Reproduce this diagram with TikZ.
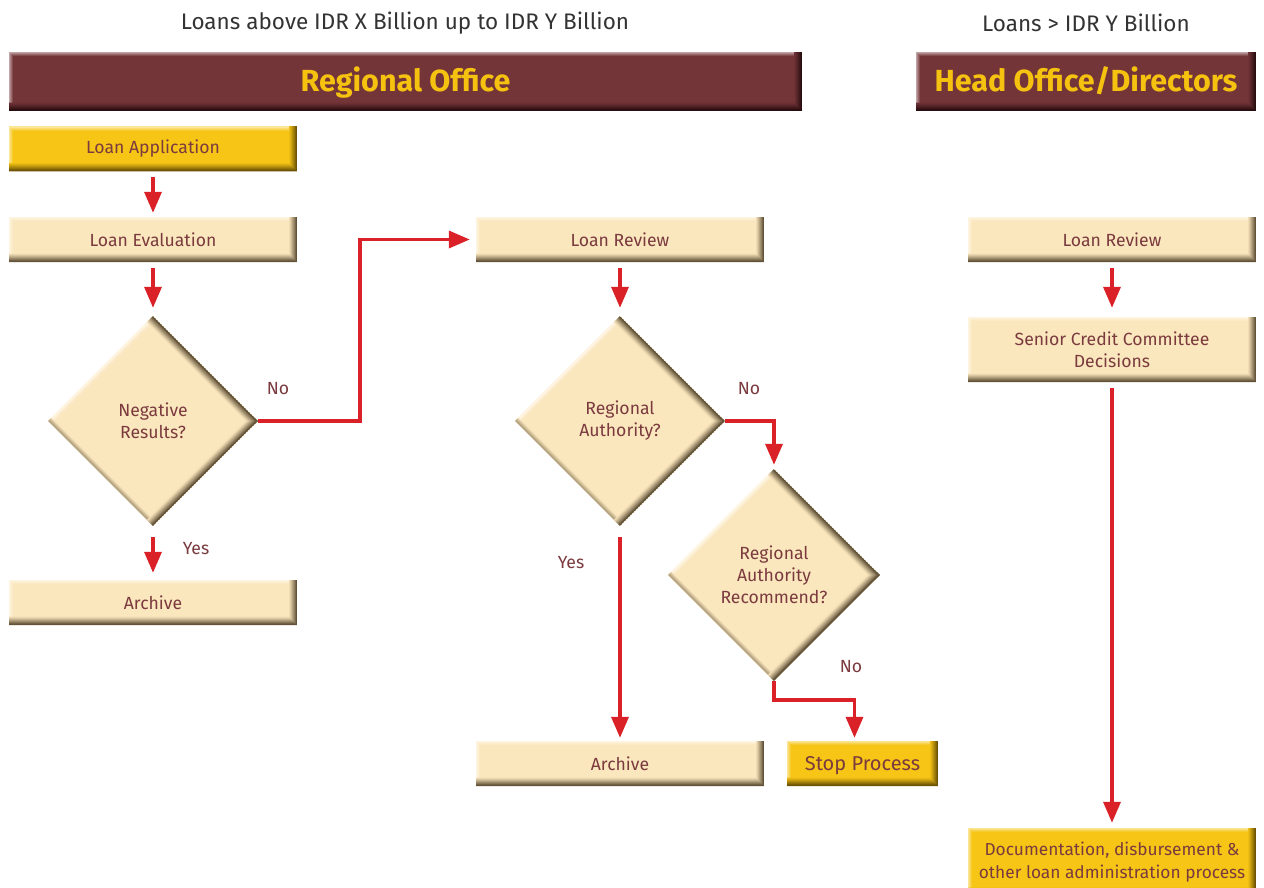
\documentclass[tikz,border=0pt]{standalone}
\usepackage{fontspec}
\setmainfont{Fira Sans}
\usetikzlibrary{shapes.geometric,arrows.meta,calc}
\definecolor{bxtan}{HTML}{FBE7BE}
\definecolor{bxgold}{HTML}{F6C516}
\definecolor{bxdark}{HTML}{4E3F26}
\definecolor{golddark}{HTML}{5A4300}
\definecolor{hdr}{HTML}{743539}
\definecolor{hdrdark}{HTML}{1E0709}
\definecolor{txtm}{HTML}{7A3A3E}
\definecolor{arr}{HTML}{DA2128}
\definecolor{ttl}{HTML}{F5C20F}
\definecolor{toptxt}{HTML}{333333}
\tikzset{
  rbevel/.style 2 args={fill=#1, path picture={
    \foreach \k/\p in {3/12,2/26,1/40,0/55}{
      \fill[white!\p!#1] ([yshift={-\k*1pt}]path picture bounding box.north west) rectangle ([yshift={-(\k+1.4)*1pt}]path picture bounding box.north east);
      \fill[white!\p!#1] ([xshift={\k*1pt}]path picture bounding box.north west) rectangle ([xshift={(\k+1.4)*1pt}]path picture bounding box.south west);
    }
    \foreach \k/\p in {7/6,6/15,5/26,4/38,3/50,2/62,1/75,0/88}{
      \fill[#2!\p!#1] ([xshift={-\k*1pt}]path picture bounding box.north east) rectangle ([xshift={-(\k+1.4)*1pt}]path picture bounding box.south east);
      \fill[#2!\p!#1] ([xshift={-\k*1pt},yshift={\k*1pt}]path picture bounding box.south east) -- ([yshift={\k*1pt}]path picture bounding box.south west) -- ([yshift={(\k+1.4)*1pt}]path picture bounding box.south west) -- ([xshift={-(\k+1.4)*1pt},yshift={(\k+1.4)*1pt}]path picture bounding box.south east) -- cycle;
    }
  }},
  dbevel/.style 2 args={fill=#1, path picture={
    \foreach \k/\p in {3/12,2/26,1/40,0/55}{
      \pgfmathsetmacro\s{(\k+0.7)*0.7071}
      \draw[white!\p!#1, line width=1.5pt] ([xshift={(-60+\s)*1pt}, yshift={(-60-\s)*1pt}]path picture bounding box.west) -- ([xshift={(60+\s)*1pt}, yshift={(60-\s)*1pt}]path picture bounding box.north);
    }
    \foreach \k/\p in {3/10,2/20,1/30,0/40}{
      \pgfmathsetmacro\s{(\k+0.7)*0.7071}
      \draw[#2!\p!#1, line width=1.5pt] ([xshift={(-60+\s)*1pt}, yshift={(60+\s)*1pt}]path picture bounding box.west) -- ([xshift={(60+\s)*1pt}, yshift={(-60+\s)*1pt}]path picture bounding box.south);
    }
    \foreach \k/\p in {7/6,6/15,5/26,4/38,3/50,2/62,1/75,0/88}{
      \pgfmathsetmacro\s{(\k+0.7)*0.7071}
      \draw[#2!\p!#1, line width=1.5pt] ([xshift={(60-\s)*1pt}, yshift={(60+\s)*1pt}]path picture bounding box.east) -- ([xshift={(-60-\s)*1pt}, yshift={(-60+\s)*1pt}]path picture bounding box.south);
      \draw[#2!\p!#1, line width=1.5pt] ([xshift={(-60-\s)*1pt}, yshift={(60-\s)*1pt}]path picture bounding box.north) -- ([xshift={(60-\s)*1pt}, yshift={(-60-\s)*1pt}]path picture bounding box.east);
    }
  }},
  box/.style={rectangle, minimum width=288pt, minimum height=45pt, inner sep=0pt, text=txtm, font=\fontsize{17.6}{22}\selectfont, align=center},
  tanbox/.style={box, rbevel={bxtan}{bxdark}},
  goldbox/.style={box, rbevel={bxgold}{golddark}},
  dec/.style={diamond, aspect=1, minimum size=210pt, inner sep=0pt, text=txtm, font=\fontsize{17.6}{22}\selectfont, align=center, dbevel={bxtan}{bxdark}},
  hbar/.style={rectangle, minimum height=59pt, inner sep=0pt, text height=24pt, text depth=3pt, text=ttl, font=\fontsize{30.5}{34}\selectfont\bfseries, rbevel={hdr}{hdrdark}},
  toplbl/.style={inner sep=0pt, text=toptxt, font=\fontsize{22.5}{26}\selectfont},
  lbl/.style={inner sep=0pt, text=txtm, font=\fontsize{17.6}{20}\selectfont},
  conn/.style={draw=arr, line width=3.5pt, -{Triangle[width=17pt,length=21pt]}},
}
\begin{document}
\begin{tikzpicture}[x=1pt, y=-1pt]
\useasboundingbox[fill=white] (0,0) rectangle (1264,888);

% column headers
\node[toplbl] (t1) at (405,23) {Loans above IDR X Billion up to IDR Y Billion};
\node[toplbl] (t2) at (1086,23) {Loans > IDR Y Billion};

\node[hbar, minimum width=793pt] (reg) at (405.5,81.5) {Regional Office};
\node[hbar, minimum width=340pt] (ho) at (1086,81.5) {Head Office/Directors};

% left column
\node[goldbox] (la) at (153,149) {Loan Application};
\node[tanbox] (le) at (153,239.5) {Loan Evaluation};
\node[dec] (d1) at (153,421) {Negative\\Results?};
\node[tanbox] (ar1) at (153,602.5) {Archive};

% middle column
\node[tanbox] (lr1) at (620,239.5) {Loan Review};
\node[dec] (d2) at (620,421) {Regional\\Authority?};
\node[dec, minimum size=212pt] (d3) at (774,575) {Regional\\Authority\\Recommend?};
\node[tanbox] (ar2) at (620,763.5) {Archive};
\node[goldbox, minimum width=151pt, text height=16pt, text depth=1.5pt, font=\fontsize{20}{24}\selectfont] (stop) at (862.5,763.5) {Stop Process};

% right column
\node[tanbox] (lr2) at (1112,239.5) {Loan Review};
\node[tanbox, minimum height=65pt] (sc) at (1112,349.5) {Senior Credit Committee\\Decisions};
\node[goldbox, minimum height=68pt, font=\fontsize{17.3}{22.5}\selectfont] (doc) at (1112,862) {Documentation, disbursement \&\\other loan administration process};

% connectors
\draw[conn, shorten <=5pt, shorten >=4pt] (la) -- (le);
\draw[conn, shorten <=6pt, shorten >=8pt] (le) -- (d1);
\draw[conn, shorten <=11pt, shorten >=7pt] (d1) -- (ar1);
\draw[conn, shorten >=6pt] (d1.east) -- ++(102,0) |- (lr1.west);
\draw[conn, shorten <=6pt, shorten >=8pt] (lr1) -- (d2);
\draw[conn, shorten <=11pt, shorten >=3pt] (d2) -- (ar2);
\draw[conn, shorten >=4pt] (d2.east) -| (d3.north);
\draw[conn, shorten >=3pt] (d3.south) -- ++(0,19) -| ([xshift=-8pt]stop.north);
\draw[conn, shorten <=6pt, shorten >=9pt] (lr2) -- (sc);
\draw[conn, shorten <=6pt, shorten >=5pt] (sc) -- (doc);

% labels
\node[lbl] (no1) at (278,389) {No};
\node[lbl] (yes1) at (196,549) {Yes};
\node[lbl] (no2) at (749,389) {No};
\node[lbl] (yes2) at (571,563) {Yes};
\node[lbl] (no3) at (851,667) {No};
\end{tikzpicture}
\end{document}
